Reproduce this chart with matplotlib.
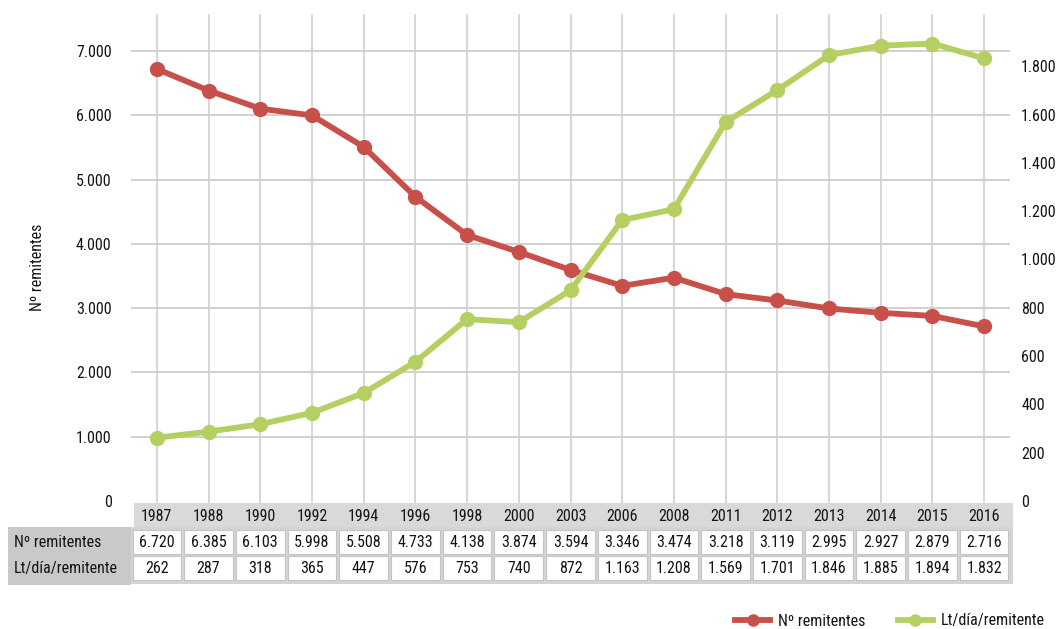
import numpy as np
import matplotlib.pyplot as plt
from matplotlib import font_manager
from matplotlib.patches import Rectangle
from matplotlib.lines import Line2D

# pick a condensed family if one is installed
installed = {f.name for f in font_manager.fontManager.ttflist}
narrow = [n for n in ['Liberation Sans Narrow', 'DejaVu Sans Condensed', 'Roboto Condensed',
                      'Open Sans Condensed', 'Noto Sans Condensed'] if n in installed]
if narrow:
    plt.rcParams['font.family'] = [narrow[0], 'DejaVu Sans']
    fs = 11.5
else:
    plt.rcParams['font.family'] = ['DejaVu Sans']
    fs = 10

years = ['1987', '1988', '1990', '1992', '1994', '1996', '1998', '2000', '2003',
         '2006', '2008', '2011', '2012', '2013', '2014', '2015', '2016']
remitentes = [6720, 6385, 6103, 5998, 5508, 4733, 4138, 3874, 3594,
              3346, 3474, 3218, 3119, 2995, 2927, 2879, 2716]
litros = [262, 287, 318, 365, 447, 576, 753, 740, 872,
          1163, 1208, 1569, 1701, 1846, 1885, 1894, 1832]
row_labels = ['Nº remitentes', 'Lt/día/remitente']

red = '#C8504A'
green = '#B5CF62'
txt = '#141414'
W, H = 1059, 629

def fmt(v):
    return f"{v:,}".replace(',', '.')

fig = plt.figure(figsize=(W / 100, H / 100), dpi=100)

# plot area in pixels
px_l, px_r, px_t, px_b = 131, 1010, 15, 501
ax = fig.add_axes([px_l / W, (H - px_b) / H, (px_r - px_l) / W, (px_b - px_t) / H])
x = np.arange(len(years))
ax.set_xlim(-0.5, len(years) - 0.5)
ax.set_ylim(0, 7560)
for s in ax.spines.values():
    s.set_visible(False)
ax.set_xticks([])
ax.set_yticks(np.arange(0, 7001, 1000))
ax.set_yticklabels([fmt(v) for v in range(0, 7001, 1000)], fontsize=fs, color=txt)
ax.tick_params(axis='y', length=0, pad=14)
for yv in range(1000, 7001, 1000):
    ax.axhline(yv, color='#D0D0D0', lw=1.4, zorder=0)
for xv in x:
    ax.axvline(xv, color='#D0D0D0', lw=1.2, zorder=0, ymin=-0.01, clip_on=False)
ax.set_ylabel('Nº remitentes', fontsize=fs, color=txt)
ax.yaxis.set_label_coords((45 - px_l) / (px_r - px_l), 0.48)

ax.plot(x, remitentes, color=red, lw=4.2, marker='o', ms=10, zorder=3)

ax2 = ax.twinx()
ax2.set_ylim(0, 2012)
for s in ax2.spines.values():
    s.set_visible(False)
ax2.set_yticks(np.arange(0, 1801, 200))
ax2.set_yticklabels([fmt(v) for v in range(0, 1801, 200)], fontsize=fs, color=txt)
ax2.tick_params(axis='y', length=0, pad=8)
ax2.plot(x, litros, color=green, lw=4.2, marker='o', ms=10, zorder=3)

# data table
unit = (px_r - px_l) / len(years)
tb_l, tb_r, tb_t, tb_b = 8, 1013, 503, 585
axt = fig.add_axes([tb_l / W, (H - tb_b) / H, (tb_r - tb_l) / W, (tb_b - tb_t) / H])
axt.set_xlim(-0.5 - (px_l - tb_l) / unit, len(years) - 0.5 + (tb_r - px_r) / unit)
axt.set_ylim(3.15, 0)
axt.axis('off')
x0 = -0.5 - (px_l - tb_l) / unit
# header
axt.add_patch(Rectangle((-0.45, 0.0), len(years) + 0.0, 0.95, color='#D9D9D9', lw=0))
# row label block
axt.add_patch(Rectangle((x0, 0.92), -0.5 - x0, 2.23, color='#C9C9C9', lw=0))
# shadow
axt.add_patch(Rectangle((-0.5, 0.92), len(years) + 0.08, 2.2, color='#D4D4D4', lw=0))
for i, y in enumerate(years):
    axt.text(i, 0.5, y, ha='center', va='center', fontsize=fs, color=txt)
    for r, vals in enumerate([remitentes, litros]):
        axt.add_patch(Rectangle((i - 0.47, 1.0 + r + 0.03), 0.94, 0.94,
                                facecolor='white', edgecolor='#C4C4C4', lw=0.8))
        axt.text(i, 1.5 + r, fmt(vals[i]), ha='center', va='center',
                 fontsize=fs, color=txt)
for r, lab in enumerate(row_labels):
    axt.text(x0 + 0.12, 1.5 + r, lab, ha='left', va='center', fontsize=fs, color=txt)

# legend
handles = [Line2D([], [], color=red, lw=4.2, marker='o', ms=8),
           Line2D([], [], color=green, lw=4.2, marker='o', ms=8)]
fig.legend(handles, row_labels, loc='center right', bbox_to_anchor=(1.0, (H - 621) / H),
           ncol=2, frameon=False, fontsize=fs, handlelength=2.2, columnspacing=2.0,
           handletextpad=0.5, labelcolor=txt)

fig.savefig('out.png', dpi=100)
